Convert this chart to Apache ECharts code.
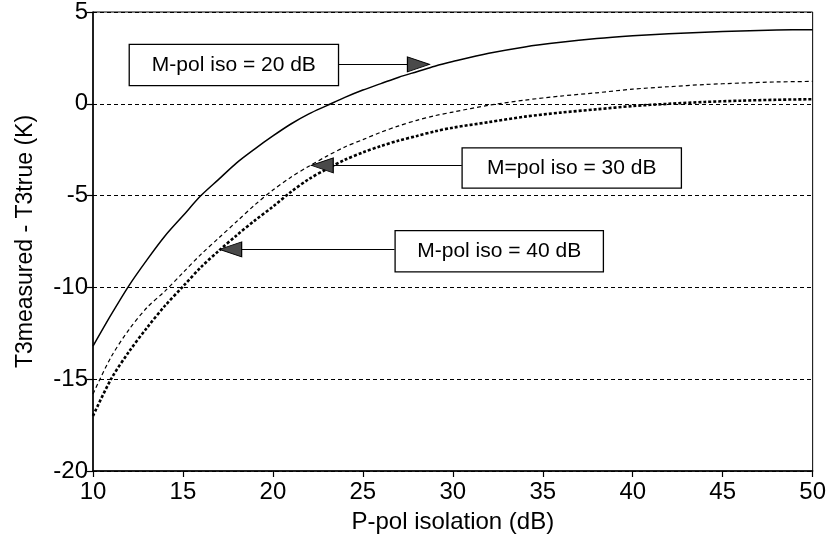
<!DOCTYPE html>
<html>
<head>
<meta charset="utf-8">
<script src="https://cdn.jsdelivr.net/npm/echarts@6/dist/echarts.min.js"></script>
<style>
  html, body { margin: 0; padding: 0; background: #fff; }
  #chart { width: 829px; height: 540px; }
</style>
</head>
<body>
<div id="chart"></div>
<script>
// P-pol isolation (dB) sample points shared by all three curves
const isolation = [10, 11, 12, 13, 14, 15, 16, 17, 18, 19, 20, 21, 22, 23, 24, 25, 26, 27, 28, 29, 30,
                   32, 34, 36, 38, 40, 42, 44, 46, 48, 50];

// T3measured - T3true (K) for each M-pol isolation
const mpol20 = [-13.2, -11.5, -9.9, -8.5, -7.2, -6.1, -5.0, -4.1, -3.2, -2.45, -1.75, -1.1, -0.55, -0.1, 0.35,
                0.75, 1.1, 1.45, 1.75, 2.05, 2.3, 2.75, 3.1, 3.35, 3.55, 3.7, 3.82, 3.9, 3.97, 4.02, 4.04];
const mpol30 = [-15.8, -13.8, -12.3, -11.1, -10.2, -9.2, -8.2, -7.3, -6.4, -5.5, -4.7, -4.0, -3.4, -2.85, -2.35,
                -1.95, -1.55, -1.2, -0.9, -0.65, -0.45, -0.08, 0.2, 0.42, 0.6, 0.8, 0.93, 1.05, 1.13, 1.19, 1.22];
const mpol40 = [-17.0, -15.0, -13.5, -12.2, -11.0, -9.95, -8.9, -8.0, -7.15, -6.35, -5.6, -4.8, -4.1, -3.55, -3.05,
                -2.65, -2.3, -2.0, -1.75, -1.5, -1.3, -1.0, -0.7, -0.48, -0.3, -0.12, 0.0, 0.1, 0.17, 0.22, 0.25];

const seriesNames = ['M-pol iso = 20 dB', 'M=pol iso = 30 dB', 'M-pol iso = 40 dB'];

// Axis ticks
const xTicks = [10, 15, 20, 25, 30, 35, 40, 45, 50];
const yTicks = [-20, -15, -10, -5, 0, 5];

// Callout boxes: label centre, box size, leader line start and arrow tip (data units)
const callouts = [
  { center: [17.83, 2.11], size: [210, 42], from: [23.67, 2.15], tip: [28.7, 2.15], rotate: -90, offset: [-11, 0] },
  { center: [36.61, -3.5], size: [220, 41], from: [30.5, -3.35], tip: [22.13, -3.35], rotate: 90, offset: [11, 0] },
  { center: [32.58, -8.03], size: [209, 42], from: [26.76, -7.93], tip: [17.04, -7.93], rotate: 90, offset: [11, 0] }
];

const FONT = '"Liberation Sans", Arial, Helvetica, sans-serif';
const curveStyles = [
  { width: 1.5, type: 'solid' },
  { width: 1.2, type: [4, 3] },
  { width: 2.6, type: [3, 2] }
];
const curveValues = [mpol20, mpol30, mpol40];

const series = curveValues.map((vals, i) => {
  const c = callouts[i];
  return {
    name: seriesNames[i],
    type: 'line',
    data: isolation.map((x, k) => [x, vals[k]]),
    showSymbol: false,
    symbol: 'none',
    smooth: 0.3,
    silent: true,
    z: 3,
    lineStyle: { color: '#000', width: curveStyles[i].width, type: curveStyles[i].type },
    markLine: {
      silent: true,
      symbol: ['none', 'none'],
      animation: false,
      lineStyle: { color: '#000', width: 1.2, type: 'solid' },
      label: { show: false },
      data: [[{ coord: c.from }, { coord: c.tip }]],
      z: 4
    },
    markPoint: {
      silent: true,
      animation: false,
      z: 5,
      data: [
        {
          coord: c.center,
          symbol: 'circle',
          symbolSize: 1,
          itemStyle: { color: 'rgba(0,0,0,0)' },
          label: {
            show: true, position: 'inside', formatter: seriesNames[i],
            color: '#000', fontSize: 21, fontFamily: FONT,
            backgroundColor: '#fff', borderColor: '#000', borderWidth: 1.3,
            width: c.size[0] - 2, height: c.size[1] - 2, lineHeight: c.size[1] - 2,
            padding: 0, align: 'center', verticalAlign: 'middle'
          }
        },
        {
          coord: c.tip,
          symbol: 'triangle',
          symbolSize: [15, 22],
          symbolRotate: c.rotate,
          symbolOffset: c.offset,
          itemStyle: { color: '#4a4a4a', borderColor: '#000', borderWidth: 1 },
          label: { show: false }
        }
      ]
    }
  };
});

const chart = echarts.init(document.getElementById('chart'), null, { renderer: 'canvas' });
chart.setOption({
  animation: false,
  backgroundColor: '#fff',
  grid: {
    left: 93, right: 15, top: 11, bottom: 69,
    show: true, borderColor: '#000', borderWidth: 1, backgroundColor: 'transparent'
  },
  xAxis: {
    type: 'value',
    min: xTicks[0], max: xTicks[xTicks.length - 1], interval: 5,
    name: 'P-pol isolation (dB)',
    nameLocation: 'middle',
    nameGap: 39,
    nameTextStyle: { color: '#000', fontSize: 24, fontFamily: FONT },
    axisLine: { show: true, onZero: false, lineStyle: { color: '#000', width: 1.5 } },
    axisTick: { show: true, inside: false, length: 6, lineStyle: { color: '#000', width: 1.2 } },
    axisLabel: { color: '#000', fontSize: 24, fontFamily: FONT, margin: 9 },
    splitLine: { show: false }
  },
  yAxis: {
    type: 'value',
    min: yTicks[0], max: yTicks[yTicks.length - 1], interval: 5,
    name: 'T3measured - T3true (K)',
    nameLocation: 'middle',
    nameGap: 56,
    nameTextStyle: { color: '#000', fontSize: 23, fontFamily: FONT },
    axisLine: { show: true, onZero: false, lineStyle: { color: '#000', width: 1.5 } },
    axisTick: { show: true, inside: false, length: 6, lineStyle: { color: '#000', width: 1.2 } },
    axisLabel: { color: '#000', fontSize: 24, fontFamily: FONT, margin: 5 },
    splitLine: { show: true, lineStyle: { color: '#000', width: 1, type: [4, 3] } }
  },
  series: series
});
</script>
</body>
</html>
